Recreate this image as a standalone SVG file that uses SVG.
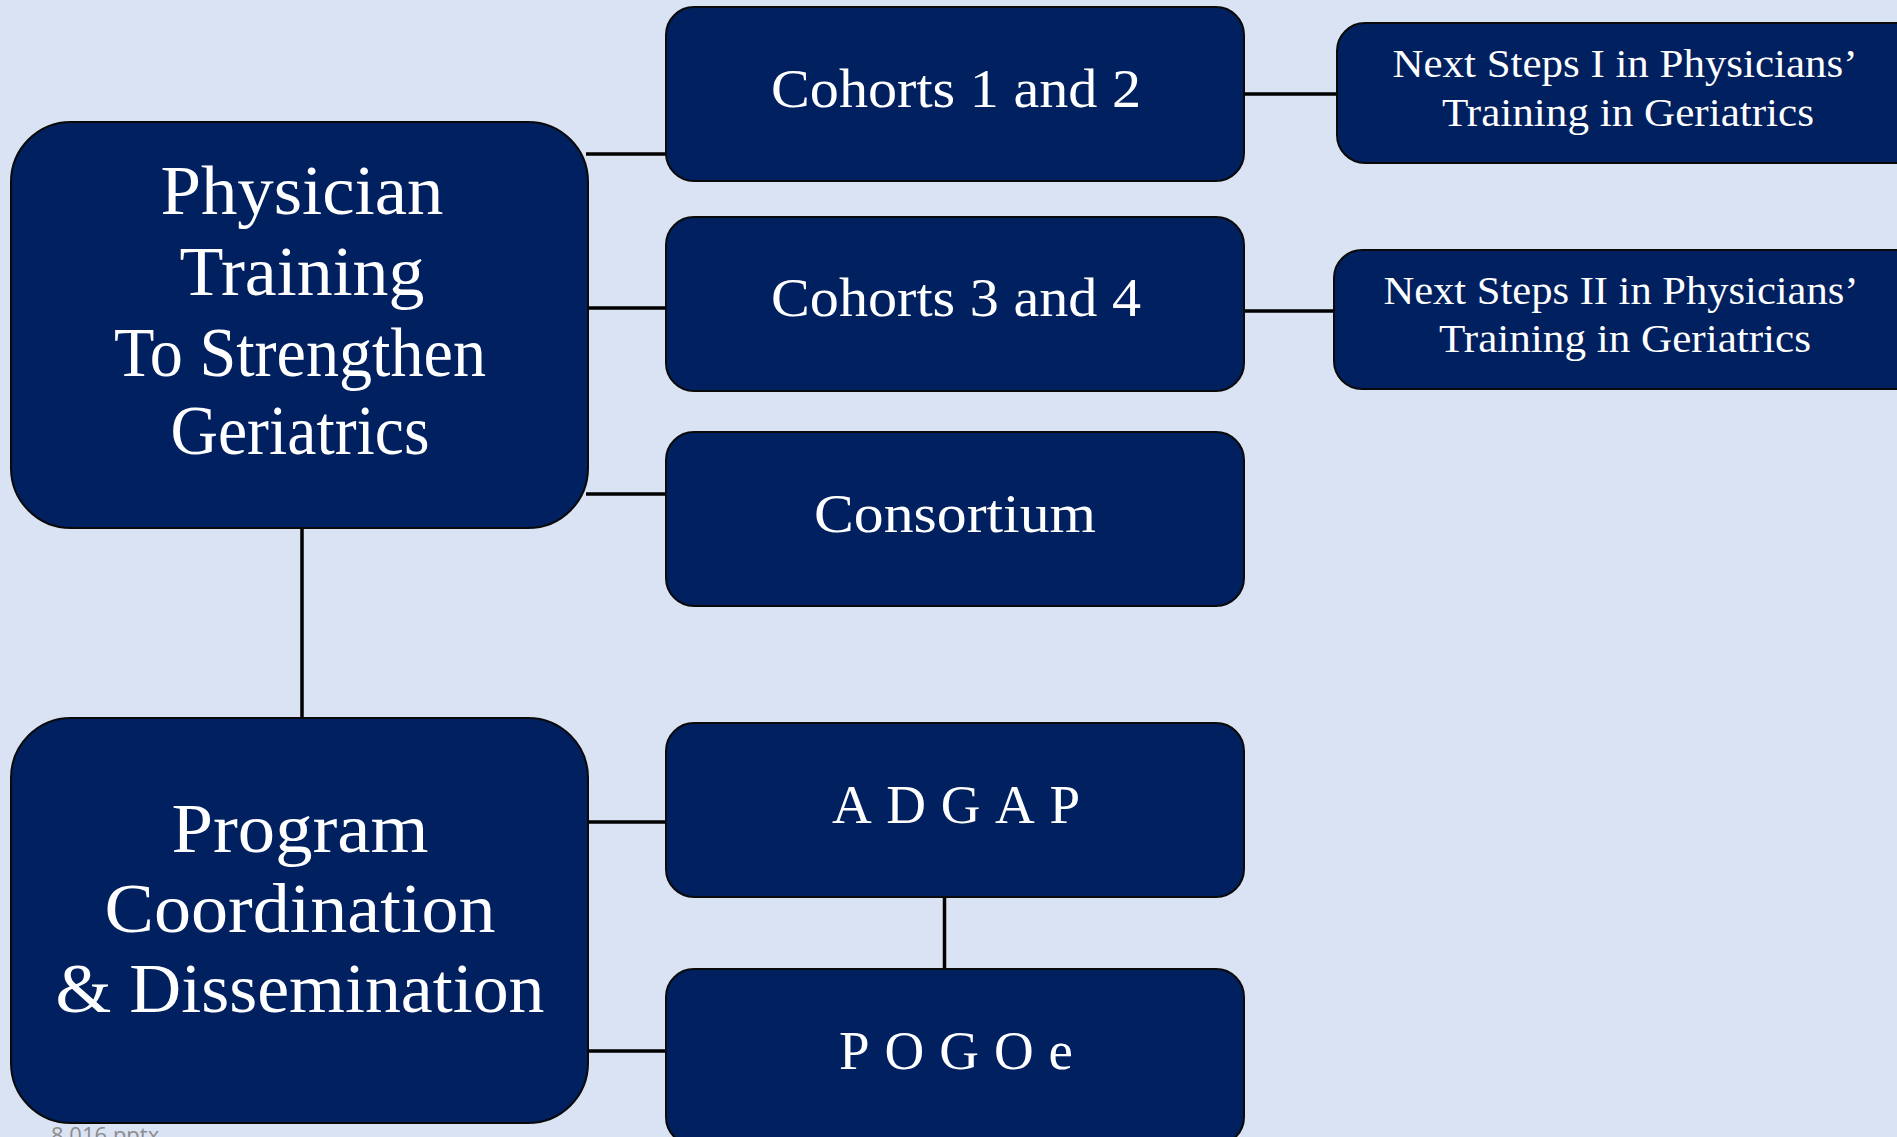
<svg xmlns="http://www.w3.org/2000/svg" width="1897" height="1137" viewBox="0 0 1897 1137">
<style>
.box{fill:#002060;stroke:#0a0a0a;stroke-width:2}
.t{fill:#ffffff;font-family:"Liberation Serif","DejaVu Serif",serif;text-anchor:middle}
.big{font-size:70px}
.mid{font-size:55px}
.sm{font-size:40px}
.conn line{stroke:#000000;stroke-width:3.5}
</style>
<rect x="0" y="0" width="1897" height="1137" fill="#DAE3F3"/>
<g class="conn" id="connectors">
<line x1="586" y1="154" x2="667" y2="154"/>
<line x1="586" y1="308" x2="667" y2="308"/>
<line x1="586" y1="494" x2="667" y2="494"/>
<line x1="302" y1="528" x2="302" y2="719"/>
<line x1="587" y1="822" x2="667" y2="822"/>
<line x1="587" y1="1051" x2="667" y2="1051"/>
<line x1="944.5" y1="897" x2="944.5" y2="969"/>
<line x1="1244" y1="94" x2="1337" y2="94"/>
<line x1="1244" y1="311" x2="1334" y2="311"/>
</g>
<g id="physician">
<rect class="box" x="11" y="122" width="577" height="406" rx="60"/>
<text class="t big" x="302" y="214" textLength="283" lengthAdjust="spacingAndGlyphs">Physician</text>
<text class="t big" x="302" y="295" textLength="245" lengthAdjust="spacingAndGlyphs">Training</text>
<text class="t big" x="300" y="376" textLength="372" lengthAdjust="spacingAndGlyphs">To Strengthen</text>
<text class="t big" x="300" y="454" textLength="259" lengthAdjust="spacingAndGlyphs">Geriatrics</text>
</g>
<g id="program">
<rect class="box" x="11" y="718" width="577" height="405" rx="60"/>
<text class="t big" x="300" y="852" textLength="257" lengthAdjust="spacingAndGlyphs">Program</text>
<text class="t big" x="300" y="932" textLength="391" lengthAdjust="spacingAndGlyphs">Coordination</text>
<text class="t big" x="300" y="1012" textLength="489" lengthAdjust="spacingAndGlyphs">&amp; Dissemination</text>
</g>
<g id="cohorts12">
<rect class="box" x="666" y="7" width="578" height="174" rx="28"/>
<text class="t mid" x="956" y="107" textLength="370" lengthAdjust="spacingAndGlyphs">Cohorts 1 and 2</text>
</g>
<g id="cohorts34">
<rect class="box" x="666" y="217" width="578" height="174" rx="28"/>
<text class="t mid" x="956" y="316" textLength="370" lengthAdjust="spacingAndGlyphs">Cohorts 3 and 4</text>
</g>
<g id="consortium">
<rect class="box" x="666" y="432" width="578" height="174" rx="28"/>
<text class="t mid" x="955" y="532" textLength="282" lengthAdjust="spacingAndGlyphs">Consortium</text>
</g>
<g id="adgap">
<rect class="box" x="666" y="723" width="578" height="174" rx="28"/>
<text class="t mid" x="956" y="823" textLength="248" lengthAdjust="spacing">ADGAP</text>
</g>
<g id="pogoe">
<rect class="box" x="666" y="969" width="578" height="176" rx="28"/>
<text class="t mid" x="956" y="1069" textLength="234" lengthAdjust="spacing">POGOe</text>
</g>
<g id="nextsteps1">
<rect class="box" x="1337" y="23" width="590" height="140" rx="28"/>
<text class="t sm" x="1625" y="77" textLength="465" lengthAdjust="spacingAndGlyphs">Next Steps I in Physicians’</text>
<text class="t sm" x="1628" y="126" textLength="372" lengthAdjust="spacingAndGlyphs">Training in Geriatrics</text>
</g>
<g id="nextsteps2">
<rect class="box" x="1334" y="250" width="590" height="139" rx="28"/>
<text class="t sm" x="1621" y="304" textLength="475" lengthAdjust="spacingAndGlyphs">Next Steps II in Physicians’</text>
<text class="t sm" x="1625" y="352" textLength="372" lengthAdjust="spacingAndGlyphs">Training in Geriatrics</text>
</g>
<text x="51" y="1143" font-family="'Open Sans','Liberation Sans',sans-serif" font-size="22" fill="#8c8c8c">8.016.pptx</text>
</svg>
